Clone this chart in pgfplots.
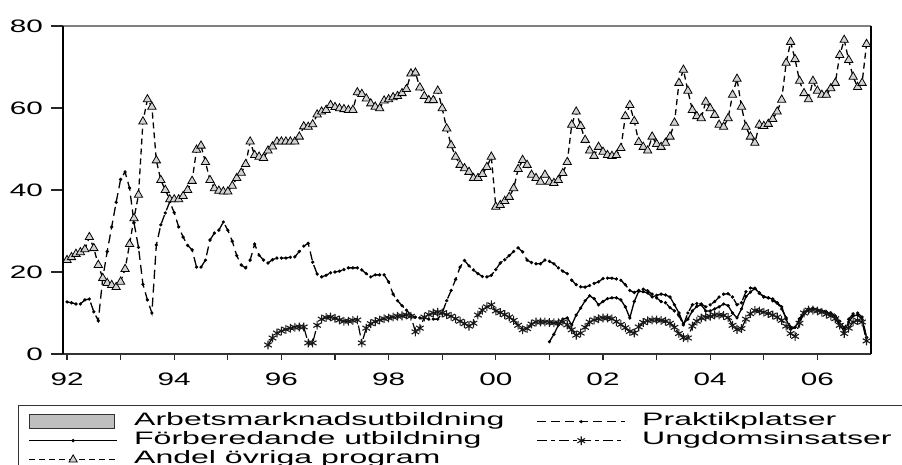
\documentclass[border=0pt]{standalone}
\usepackage{fontspec}
\usepackage{pgfplots}
\pgfplotsset{compat=1.18}
\newfontfamily\tickfont[FakeStretch=1.65]{Liberation Sans}
\newfontfamily\legfont[FakeStretch=1.78]{Liberation Sans}
\begin{document}
\begin{tikzpicture}
\begin{axis}[
  name=ax,
  at={(63pt,111pt)}, anchor=south west,
  scale only axis, width=808pt, height=328pt,
  xmin=-0.9, xmax=180, ymin=0, ymax=80,
  axis line style={draw=none},
  tick pos=left, tick align=outside,
  major tick length=6pt,
  tick style={black!85, line width=1.3pt},
  ytick={0,20,40,60,80}, yticklabels={0,20,40,60,80},
  ytick style={/pgfplots/major tick length=12pt},
  xtick={0,12,...,168},
  xticklabels={92,,94,,96,,98,,00,,02,,04,,06},
  ticklabel style={font=\tickfont\fontsize{18pt}{20pt}\selectfont},
  xticklabel style={inner sep=0pt, yshift=-13pt},
  yticklabel style={inner sep=0pt, xshift=-14pt},
  legend columns=2,
  legend cell align=left,
  legend style={at={(-0.0557,-0.1560)}, anchor=north west,
    draw=black!80, line width=1pt, fill=white,
    inner xsep=10pt, inner ysep=7pt,
    row sep=1pt,
    font=\legfont\fontsize{18pt}{20pt}\selectfont,
    nodes={inner xsep=2pt, inner ysep=0pt, text height=13pt, text depth=5pt},
    /tikz/every even column/.append style={column sep=30pt}},
  legend image code/.code={
    \draw[mark repeat=2, mark phase=2, #1] plot coordinates {(0pt,0pt) (44pt,0pt) (88pt,0pt)};
    \path[draw=none] (0pt,0pt) -- (103pt,0pt);
  },
]
\addlegendimage{legend image code/.code={
    \draw[fill=gray!50, draw=black!80, line width=0.8pt] (0pt,-7pt) rectangle (85pt,7pt);
    \path[draw=none] (0pt,0pt) -- (103pt,0pt);}}
\addlegendentry{Arbetsmarknadsutbildning}

% Praktikplatser
\addplot[black, line width=1.3pt, dash pattern=on 9pt off 5pt, mark=*, mark size=0.9pt, mark options={solid}] coordinates {
(0,12.7)(1,12.5)(2,12.2)(3,12.2)(4,13.2)(5,13.4)(6,10.3)(7,8.1)(8,18.5)(9,25.0)(10,31.0)(11,37.0)
(12,42.6)(13,44.4)(14,40.5)(15,32.0)(16,26.0)(17,17.0)(18,13.2)(19,10.0)(20,26.6)(21,31.5)(22,34.4)(23,37.1)
(24,34.5)(25,31.0)(26,28.5)(27,26.5)(28,25.4)(29,21.2)(30,21.2)(31,22.9)(32,27.8)(33,29.5)(34,30.2)(35,32.2)
(36,30.2)(37,27.5)(38,24.0)(39,21.7)(40,21.0)(41,22.9)(42,26.8)(43,24.1)(44,22.9)(45,22.2)(46,23.0)(47,23.4)
(48,23.4)(49,23.4)(50,23.6)(51,23.7)(52,25.0)(53,26.3)(54,27.0)(55,22.4)(56,19.5)(57,18.8)(58,19.2)(59,19.8)
(60,20.0)(61,20.2)(62,20.6)(63,21.0)(64,21.0)(65,21.0)(66,20.5)(67,19.6)(68,18.8)(69,19.3)(70,19.3)(71,19.3)
(72,17.6)(73,14.6)(74,13.0)(75,11.8)(76,10.7)(77,9.5)(78,9.0)(79,8.8)(80,8.8)(81,8.5)(82,8.5)(83,8.5)
(84,10.0)(85,13.0)(86,15.5)(87,18.2)(88,21.2)(89,22.8)(90,21.5)(91,20.5)(92,19.6)(93,18.9)(94,18.8)(95,19.2)
(96,20.6)(97,22.2)(98,23.0)(99,24.0)(100,25.0)(101,25.9)(102,24.9)(103,22.9)(104,22.3)(105,22.0)(106,22.0)(107,22.9)
(108,22.6)(109,22.0)(110,21.0)(111,20.2)(112,19.6)(113,18.0)(114,16.9)(115,16.4)(116,16.3)(117,16.7)(118,17.2)(119,17.6)
(120,18.4)(121,18.5)(122,18.5)(123,18.3)(124,18.0)(125,16.9)(126,15.5)(127,15.0)(128,15.5)(129,15.8)(130,15.4)(131,14.6)
(132,13.7)(133,12.8)(134,12.5)(135,11.3)(136,10.5)(137,9.3)(138,7.1)(139,10.0)(140,12.0)(141,12.3)(142,12.2)(143,11.5)
(144,12.0)(145,12.8)(146,13.9)(147,14.6)(148,14.7)(149,13.9)(150,12.0)(151,12.5)(152,15.2)(153,16.1)(154,16.0)(155,14.8)
(156,13.9)(157,13.7)(158,13.0)(159,12.4)(160,11.0)(161,8.8)(162,6.6)(163,6.5)(164,8.6)(165,10.2)(166,11.0)(167,10.9)
(168,10.7)(169,10.5)(170,10.3)(171,10.0)(172,9.3)(173,8.0)(174,6.3)(175,8.5)(176,9.8)(177,10.0)(178,9.0)(179,4.0)
};
\addlegendentry{Praktikplatser}

% Forberedande utbildning
\addplot[black, line width=1.3pt, solid, mark=*, mark size=0.9pt] coordinates {
(108,3.0)(109,4.8)(110,7.0)(111,8.5)(112,8.8)(113,7.1)(114,9.5)(115,11.2)(116,13.0)(117,14.2)(118,13.5)(119,12.0)
(120,12.8)(121,13.5)(122,13.7)(123,13.7)(124,13.2)(125,11.5)(126,8.8)(127,12.8)(128,15.3)(129,15.2)(130,14.9)(131,13.9)
(132,14.3)(133,14.6)(134,14.4)(135,13.9)(136,12.0)(137,10.0)(138,7.4)(139,8.5)(140,10.5)(141,11.6)(142,12.0)(143,10.5)
(144,10.5)(145,11.0)(146,11.5)(147,12.2)(148,11.8)(149,10.0)(150,8.8)(151,11.0)(152,14.0)(153,15.1)(154,16.0)(155,14.9)
(156,14.0)(157,13.7)(158,13.4)(159,12.5)(160,11.5)(161,8.5)(162,6.0)(163,6.5)(164,8.5)(165,9.8)(166,10.7)(167,11.2)
(168,10.8)(169,10.5)(170,10.2)(171,9.7)(172,9.0)(173,7.2)(174,5.4)(175,7.8)(176,9.3)(177,9.5)(178,8.5)(179,4.0)
};
\addlegendentry{Förberedande utbildning}

% Ungdomsinsatser
\addplot[black, line width=1.2pt, dash pattern=on 10pt off 4pt on 4pt off 4pt, mark=asterisk, mark size=4.4pt, mark options={solid, draw=black!90, line width=1.1pt}] coordinates {
(45,2.2)(46,3.9)(47,5.1)(48,5.6)(49,6.0)(50,6.3)(51,6.5)(52,6.6)(53,6.6)(54,2.7)(55,2.7)(56,7.0)(57,8.5)(58,8.9)(59,9.0)
(60,8.7)(61,8.3)(62,8.0)(63,8.0)(64,8.2)(65,8.3)(66,2.7)(67,6.3)(68,7.4)(69,7.9)(70,8.3)(71,8.6)
(72,8.8)(73,9.0)(74,9.2)(75,9.3)(76,9.5)(77,9.2)(78,5.4)(79,6.3)(80,9.0)(81,9.6)(82,10.0)(83,10.2)
(84,10.0)(85,9.6)(86,9.2)(87,8.6)(88,8.0)(89,7.4)(90,6.8)(91,7.5)(92,9.5)(93,10.7)(94,11.5)(95,12.0)
(96,10.5)(97,10.1)(98,9.6)(99,9.0)(100,8.2)(101,7.0)(102,5.9)(103,6.2)(104,7.3)(105,7.8)(106,7.8)(107,7.8)
(108,7.7)(109,7.6)(110,7.6)(111,7.8)(112,7.1)(113,5.9)(114,4.6)(115,5.1)(116,6.5)(117,7.8)(118,8.3)(119,8.6)
(120,8.8)(121,8.8)(122,8.6)(123,7.9)(124,7.2)(125,6.4)(126,5.5)(127,5.1)(128,6.6)(129,7.7)(130,8.1)(131,8.3)
(132,8.3)(133,8.2)(134,8.0)(135,7.5)(136,6.5)(137,5.0)(138,4.0)(139,3.9)(140,6.8)(141,8.0)(142,8.8)(143,9.0)
(144,9.2)(145,9.5)(146,9.5)(147,9.4)(148,8.9)(149,7.0)(150,6.0)(151,6.2)(152,8.5)(153,9.8)(154,10.6)(155,10.5)
(156,10.2)(157,9.9)(158,9.5)(159,9.0)(160,8.2)(161,6.8)(162,5.0)(163,4.3)(164,7.5)(165,10.0)(166,10.7)(167,10.7)
(168,10.5)(169,10.2)(170,9.7)(171,9.3)(172,8.6)(173,7.0)(174,5.0)(175,6.3)(176,7.8)(177,8.2)(178,7.8)(179,3.2)
};
\addlegendentry{Ungdomsinsatser\hspace*{20pt}}

% Andel ovriga program
\addplot[black, line width=1.3pt, dash pattern=on 6pt off 4pt, mark=triangle*, mark size=4.8pt, mark options={solid, fill=gray!35, draw=black, line width=0.8pt}] coordinates {
(0,22.9)(1,23.6)(2,24.4)(3,24.8)(4,25.5)(5,28.5)(6,25.8)(7,21.7)(8,18.5)(9,17.3)(10,16.8)(11,16.3)
(12,17.6)(13,20.7)(14,26.8)(15,33.1)(16,38.8)(17,56.7)(18,62.1)(19,60.3)(20,47.2)(21,42.4)(22,40.0)(23,37.7)
(24,37.7)(25,37.7)(26,38.5)(27,40.0)(28,42.2)(29,49.8)(30,50.8)(31,46.8)(32,42.4)(33,40.4)(34,39.8)(35,39.6)
(36,39.6)(37,41.0)(38,42.9)(39,44.2)(40,46.3)(41,51.8)(42,48.5)(43,48.1)(44,47.8)(45,49.6)(46,50.6)(47,51.8)
(48,51.8)(49,51.8)(50,51.8)(51,51.8)(52,53.0)(53,55.5)(54,55.4)(55,56.0)(56,58.4)(57,59.1)(58,59.5)(59,60.7)
(60,60.2)(61,59.9)(62,59.7)(63,59.5)(64,59.5)(65,63.8)(66,63.4)(67,62.3)(68,61.1)(69,60.3)(70,59.9)(71,61.8)
(72,62.1)(73,62.6)(74,62.9)(75,63.6)(76,64.6)(77,68.4)(78,68.6)(79,65.0)(80,62.9)(81,61.9)(82,61.9)(83,64.2)
(84,59.9)(85,55.0)(86,50.9)(87,48.1)(88,46.1)(89,45.3)(90,44.4)(91,42.9)(92,42.9)(93,43.9)(94,45.6)(95,48.1)
(96,35.9)(97,36.3)(98,37.3)(99,38.3)(100,40.4)(101,45.1)(102,47.3)(103,46.1)(104,43.7)(105,42.9)(106,42.0)(107,43.7)
(108,42.0)(109,41.7)(110,42.4)(111,44.1)(112,46.8)(113,55.9)(114,59.1)(115,55.6)(116,52.2)(117,49.6)(118,48.3)(119,50.5)
(120,49.3)(121,48.5)(122,48.3)(123,48.5)(124,50.2)(125,58.0)(126,60.7)(127,56.8)(128,51.7)(129,50.5)(130,49.6)(131,53.0)
(132,51.2)(133,50.5)(134,51.5)(135,53.0)(136,56.4)(137,66.1)(138,69.3)(139,64.2)(140,59.5)(141,58.0)(142,57.5)(143,61.5)
(144,59.9)(145,58.3)(146,55.9)(147,55.4)(148,57.5)(149,63.2)(150,67.1)(151,60.3)(152,55.4)(153,53.0)(154,51.5)(155,55.9)
(156,55.6)(157,56.1)(158,57.3)(159,59.1)(160,62.0)(161,71.0)(162,76.1)(163,71.9)(164,66.6)(165,63.6)(166,62.1)(167,66.6)
(168,64.2)(169,63.2)(170,63.2)(171,64.8)(172,66.1)(173,72.9)(174,76.6)(175,71.7)(176,67.6)(177,65.1)(178,66.1)(179,75.6)
};
\addlegendentry{Andel övriga program}
\end{axis}
\draw[black!80, line width=1.6pt] (ax.south west) -- (ax.south east);
\draw[gray, line width=1.2pt] (ax.north west) -- (ax.north east);
\draw[black, line width=2pt] (ax.south west) -- (ax.north west);
\draw[black, line width=2pt] (ax.south east) -- (ax.north east);
\pgfresetboundingbox
\useasboundingbox (0pt,0pt) rectangle (902pt,465pt);
\end{tikzpicture}
\end{document}
